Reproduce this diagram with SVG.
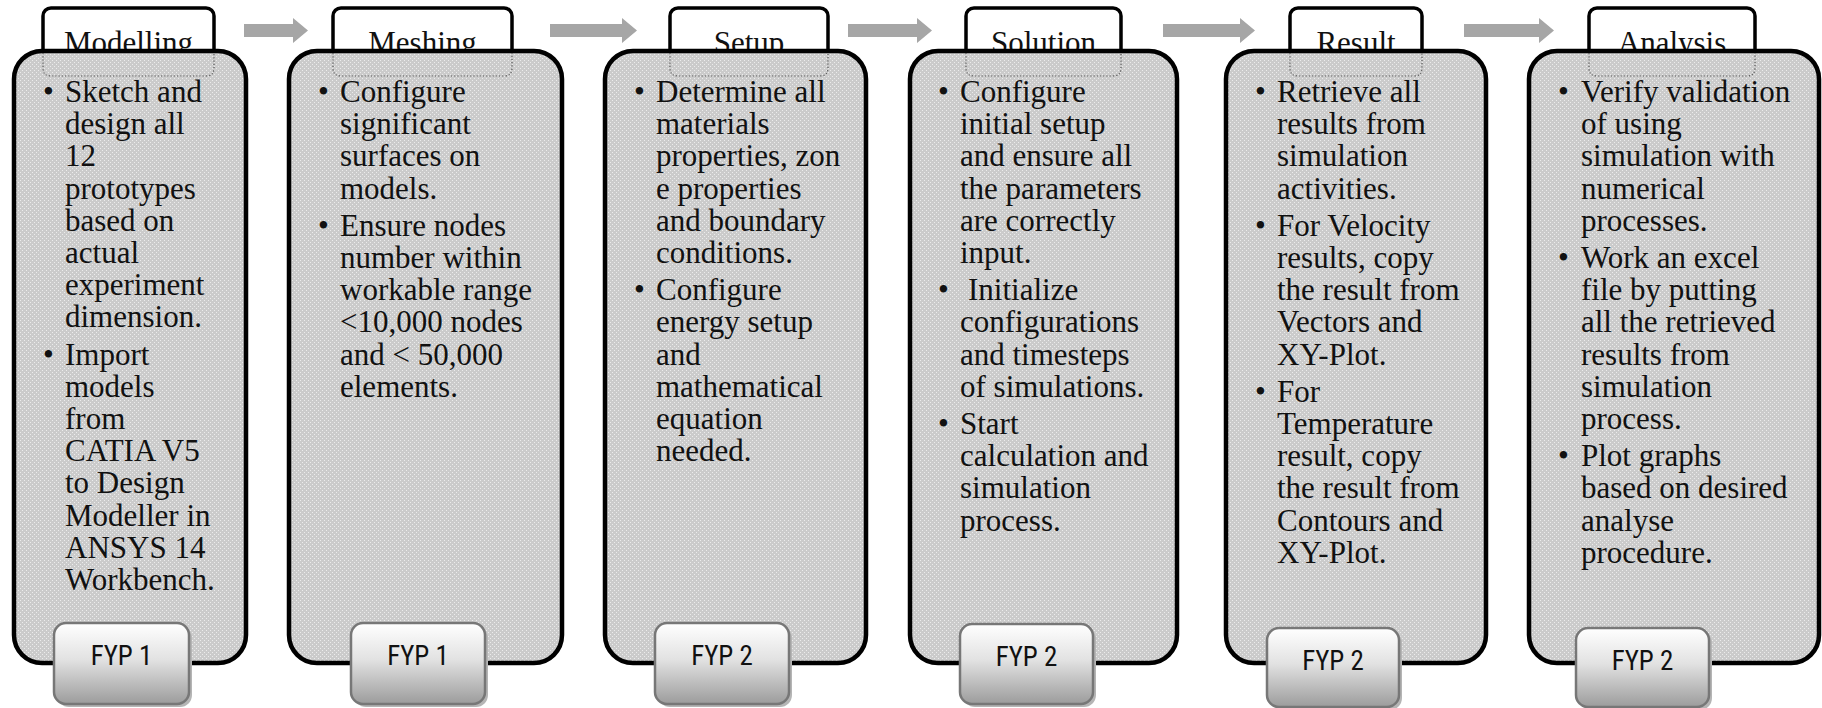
<svg xmlns="http://www.w3.org/2000/svg" width="1822" height="708" viewBox="0 0 1822 708">
<style>
.tab{fill:#fff;stroke:#000;stroke-width:3.5}
.title{font-family:"Liberation Serif","Times New Roman",serif;font-size:31px;fill:#111;text-anchor:middle}
.box{fill:url(#dots);stroke:#000;stroke-width:4.5}
.dash{fill:none;stroke:#555;stroke-width:1.2;stroke-dasharray:1.2 2}
.body{font-family:"Liberation Serif","Times New Roman",serif;font-size:31px;fill:#111}
.badge{fill:url(#grad);stroke:#777;stroke-width:2.5}
.shadow{fill:#b5b5b5}
.btxt{font-family:"Liberation Sans Narrow","Roboto Condensed","Liberation Sans",sans-serif;font-size:27px;fill:#111;text-anchor:middle}
.arrow{fill:#a6a6a6}
</style>
<defs>
<pattern id="dots" width="4" height="4" patternUnits="userSpaceOnUse">
<rect width="4" height="4" fill="#cbcbcb"/>
<rect x="0" y="0" width="1" height="1" fill="#ececec"/>
<rect x="2" y="2" width="1" height="1" fill="#ececec"/>
</pattern>
<linearGradient id="grad" x1="0" y1="0" x2="0" y2="1">
<stop offset="0" stop-color="#ffffff"/>
<stop offset="0.45" stop-color="#e2e2e2"/>
<stop offset="1" stop-color="#9c9c9c"/>
</linearGradient>
</defs>

<g id="connectors">
<path class="arrow" d="M244,24 H293 V18 L308,30.5 L293,43 V37 H244 Z"/>
<path class="arrow" d="M550,24 H622 V18 L637,30.5 L622,43 V37 H550 Z"/>
<path class="arrow" d="M848,24 H917 V18 L932,30.5 L917,43 V37 H848 Z"/>
<path class="arrow" d="M1163,24 H1240 V18 L1255,30.5 L1240,43 V37 H1163 Z"/>
<path class="arrow" d="M1464,24 H1539 V18 L1554,30.5 L1539,43 V37 H1464 Z"/>
</g>

<g id="modelling">
<rect class="tab" x="43" y="8" width="171" height="70" rx="8"/>
<text class="title" x="128.5" y="53">Modelling</text>
<rect class="box" x="14" y="51" width="232" height="612" rx="28"/>
<path class="dash" d="M43,53 V68 Q43,76 51,76 H206 Q214,76 214,68 V53"/>
<text class="body">
<tspan x="43" y="102">•</tspan><tspan x="65" y="102">Sketch and</tspan>
<tspan x="65" y="134.2">design all</tspan>
<tspan x="65" y="166.4">12</tspan>
<tspan x="65" y="198.6">prototypes</tspan>
<tspan x="65" y="230.8">based on</tspan>
<tspan x="65" y="263">actual</tspan>
<tspan x="65" y="295.2">experiment</tspan>
<tspan x="65" y="327.4">dimension.</tspan>
<tspan x="43" y="364.6">•</tspan><tspan x="65" y="364.6">Import</tspan>
<tspan x="65" y="396.8">models</tspan>
<tspan x="65" y="429">from</tspan>
<tspan x="65" y="461.2">CATIA V5</tspan>
<tspan x="65" y="493.4">to Design</tspan>
<tspan x="65" y="525.6">Modeller in</tspan>
<tspan x="65" y="557.8">ANSYS 14</tspan>
<tspan x="65" y="590">Workbench.</tspan>
</text>
<rect class="shadow" x="57" y="626" width="135" height="81" rx="12"/>
<rect class="badge" x="54" y="623" width="135" height="81" rx="12"/>
<text class="btxt" x="121.5" y="665">FYP 1</text>
</g>

<g id="meshing">
<rect class="tab" x="333" y="8" width="179" height="70" rx="8"/>
<text class="title" x="422.5" y="53">Meshing</text>
<rect class="box" x="289" y="51" width="273" height="612" rx="28"/>
<path class="dash" d="M333,53 V68 Q333,76 341,76 H504 Q512,76 512,68 V53"/>
<text class="body">
<tspan x="318" y="102">•</tspan><tspan x="340" y="102">Configure</tspan>
<tspan x="340" y="134.2">significant</tspan>
<tspan x="340" y="166.4">surfaces on</tspan>
<tspan x="340" y="198.6">models.</tspan>
<tspan x="318" y="235.8">•</tspan><tspan x="340" y="235.8">Ensure nodes</tspan>
<tspan x="340" y="268">number within</tspan>
<tspan x="340" y="300.2">workable range</tspan>
<tspan x="340" y="332.4">&lt;10,000 nodes</tspan>
<tspan x="340" y="364.6">and &lt; 50,000</tspan>
<tspan x="340" y="396.8">elements.</tspan>
</text>
<rect class="shadow" x="354" y="626" width="134" height="81" rx="12"/>
<rect class="badge" x="351" y="623" width="134" height="81" rx="12"/>
<text class="btxt" x="418" y="665">FYP 1</text>
</g>

<g id="setup">
<rect class="tab" x="670" y="8" width="158" height="70" rx="8"/>
<text class="title" x="749" y="53">Setup</text>
<rect class="box" x="605" y="51" width="261" height="612" rx="28"/>
<path class="dash" d="M670,53 V68 Q670,76 678,76 H820 Q828,76 828,68 V53"/>
<text class="body">
<tspan x="634" y="102">•</tspan><tspan x="656" y="102">Determine all</tspan>
<tspan x="656" y="134.2">materials</tspan>
<tspan x="656" y="166.4">properties, zon</tspan>
<tspan x="656" y="198.6">e properties</tspan>
<tspan x="656" y="230.8">and boundary</tspan>
<tspan x="656" y="263">conditions.</tspan>
<tspan x="634" y="300.2">•</tspan><tspan x="656" y="300.2">Configure</tspan>
<tspan x="656" y="332.4">energy setup</tspan>
<tspan x="656" y="364.6">and</tspan>
<tspan x="656" y="396.8">mathematical</tspan>
<tspan x="656" y="429">equation</tspan>
<tspan x="656" y="461.2">needed.</tspan>
</text>
<rect class="shadow" x="658" y="626" width="134" height="81" rx="12"/>
<rect class="badge" x="655" y="623" width="134" height="81" rx="12"/>
<text class="btxt" x="722" y="665">FYP 2</text>
</g>

<g id="solution">
<rect class="tab" x="966" y="8" width="155" height="70" rx="8"/>
<text class="title" x="1043.5" y="53">Solution</text>
<rect class="box" x="910" y="51" width="267" height="612" rx="28"/>
<path class="dash" d="M966,53 V68 Q966,76 974,76 H1113 Q1121,76 1121,68 V53"/>
<text class="body">
<tspan x="938" y="102">•</tspan><tspan x="960" y="102">Configure</tspan>
<tspan x="960" y="134.2">initial setup</tspan>
<tspan x="960" y="166.4">and ensure all</tspan>
<tspan x="960" y="198.6">the parameters</tspan>
<tspan x="960" y="230.8">are correctly</tspan>
<tspan x="960" y="263">input.</tspan>
<tspan x="938" y="300.2">•</tspan><tspan x="968" y="300.2">Initialize</tspan>
<tspan x="960" y="332.4">configurations</tspan>
<tspan x="960" y="364.6">and timesteps</tspan>
<tspan x="960" y="396.8">of simulations.</tspan>
<tspan x="938" y="434">•</tspan><tspan x="960" y="434">Start</tspan>
<tspan x="960" y="466.2">calculation and</tspan>
<tspan x="960" y="498.4">simulation</tspan>
<tspan x="960" y="530.6">process.</tspan>
</text>
<rect class="shadow" x="963" y="627" width="133" height="80" rx="12"/>
<rect class="badge" x="960" y="624" width="133" height="80" rx="12"/>
<text class="btxt" x="1026.5" y="666">FYP 2</text>
</g>

<g id="result">
<rect class="tab" x="1290" y="8" width="132" height="70" rx="8"/>
<text class="title" x="1356" y="53">Result</text>
<rect class="box" x="1226" y="51" width="260" height="612" rx="28"/>
<path class="dash" d="M1290,53 V68 Q1290,76 1298,76 H1414 Q1422,76 1422,68 V53"/>
<text class="body">
<tspan x="1255" y="102">•</tspan><tspan x="1277" y="102">Retrieve all</tspan>
<tspan x="1277" y="134.2">results from</tspan>
<tspan x="1277" y="166.4">simulation</tspan>
<tspan x="1277" y="198.6">activities.</tspan>
<tspan x="1255" y="235.8">•</tspan><tspan x="1277" y="235.8">For Velocity</tspan>
<tspan x="1277" y="268">results, copy</tspan>
<tspan x="1277" y="300.2">the result from</tspan>
<tspan x="1277" y="332.4">Vectors and</tspan>
<tspan x="1277" y="364.6">XY-Plot.</tspan>
<tspan x="1255" y="401.8">•</tspan><tspan x="1277" y="401.8">For</tspan>
<tspan x="1277" y="434">Temperature</tspan>
<tspan x="1277" y="466.2">result, copy</tspan>
<tspan x="1277" y="498.4">the result from</tspan>
<tspan x="1277" y="530.6">Contours and</tspan>
<tspan x="1277" y="562.8">XY-Plot.</tspan>
</text>
<rect class="shadow" x="1270" y="631" width="132" height="79" rx="12"/>
<rect class="badge" x="1267" y="628" width="132" height="79" rx="12"/>
<text class="btxt" x="1333" y="670">FYP 2</text>
</g>

<g id="analysis">
<rect class="tab" x="1589" y="8" width="166" height="70" rx="8"/>
<text class="title" x="1672" y="53">Analysis</text>
<rect class="box" x="1529" y="51" width="290" height="612" rx="28"/>
<path class="dash" d="M1589,53 V68 Q1589,76 1597,76 H1747 Q1755,76 1755,68 V53"/>
<text class="body">
<tspan x="1558" y="102">•</tspan><tspan x="1581" y="102">Verify validation</tspan>
<tspan x="1581" y="134.2">of using</tspan>
<tspan x="1581" y="166.4">simulation with</tspan>
<tspan x="1581" y="198.6">numerical</tspan>
<tspan x="1581" y="230.8">processes.</tspan>
<tspan x="1558" y="268">•</tspan><tspan x="1581" y="268">Work an excel</tspan>
<tspan x="1581" y="300.2">file by putting</tspan>
<tspan x="1581" y="332.4">all the retrieved</tspan>
<tspan x="1581" y="364.6">results from</tspan>
<tspan x="1581" y="396.8">simulation</tspan>
<tspan x="1581" y="429">process.</tspan>
<tspan x="1558" y="466.2">•</tspan><tspan x="1581" y="466.2">Plot graphs</tspan>
<tspan x="1581" y="498.4">based on desired</tspan>
<tspan x="1581" y="530.6">analyse</tspan>
<tspan x="1581" y="562.8">procedure.</tspan>
</text>
<rect class="shadow" x="1579" y="631" width="133" height="79" rx="12"/>
<rect class="badge" x="1576" y="628" width="133" height="79" rx="12"/>
<text class="btxt" x="1642.5" y="670">FYP 2</text>
</g>
</svg>
